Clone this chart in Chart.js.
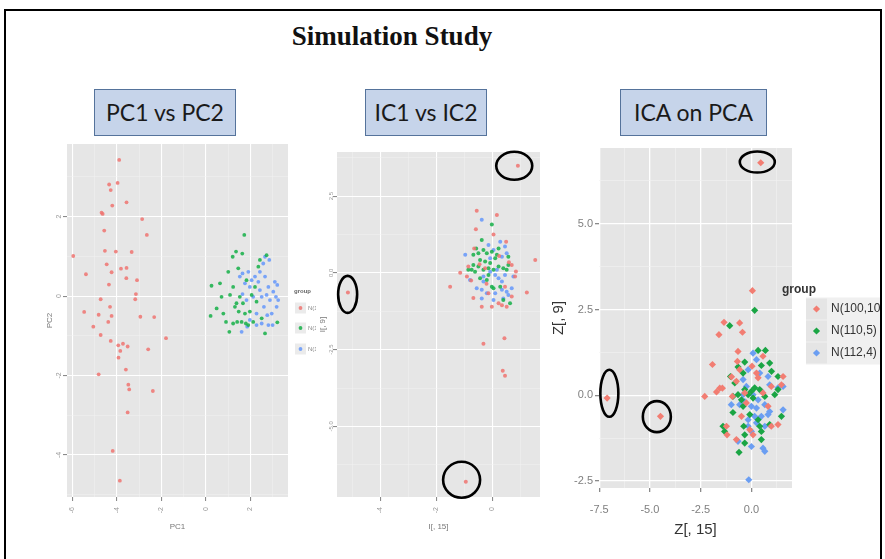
<!DOCTYPE html>
<html><head><meta charset="utf-8">
<script src="https://cdn.jsdelivr.net/npm/chart.js@4.4.1/dist/chart.umd.min.js"></script>
<style>
html,body{margin:0;padding:0;background:#fff;}
body{width:885px;height:559px;position:relative;overflow:hidden;}
canvas{position:absolute;}
.frame{position:absolute;left:4px;top:9px;width:874px;height:620px;border:2px solid #000;pointer-events:none;z-index:10;}
.title{position:absolute;left:242px;top:21px;width:300px;text-align:center;font:bold 27px "Liberation Serif","DejaVu Serif",serif;color:#111;z-index:6;}
.box{position:absolute;top:89px;height:47px;box-sizing:border-box;border:1.6px solid #55739b;background:#c6d4ea;color:#1a1a1a;font:23px Lato,"Open Sans",sans-serif;text-align:center;line-height:44px;z-index:6;}
</style></head>
<body>
<div class="frame"></div>
<div class="title">Simulation Study</div>
<div class="box" style="left:94px;width:142px;">PC1 vs PC2</div>
<div class="box" style="left:365px;width:122px;">IC1 vs IC2</div>
<div class="box" style="left:620px;width:147px;">ICA on PCA</div>
<canvas id="c1"></canvas>
<canvas id="c2"></canvas>
<canvas id="c3"></canvas>
<script>
// ---------- data ----------
const groupLabels = ['N(100,10)', 'N(110,5)', 'N(112,4)'];

// Panel 1: PC1 vs PC2
const pcXTicks = [-6, -4, -2, 0, 2];
const pcXLabels = ['-6', '-4', '-2', '0', '2'];
const pcXMinor = [-5, -3, -1, 1, 3];
const pcYTicks = [-4, -2, 0, 2];
const pcYLabels = ['-4', '-2', '0', '2'];
const pcYMinor = [-5, -3, -1, 1, 3];
const pcGroup1 = [[-3.89,3.43],[-4.34,2.81],[-3.96,2.85],[-4.27,2.67],[-3.56,2.36],[-4.20,2.28],[-4.68,2.10],[-4.63,2.07],[-2.86,1.94],[-4.56,1.65],[-2.65,1.54],[-5.95,1.01],[-4.53,1.14],[-4.04,1.12],[-3.33,1.11],[-4.45,0.80],[-3.81,0.69],[-3.56,0.71],[-4.23,0.60],[-5.38,0.55],[-3.57,0.45],[-3.09,0.40],[-4.35,0.29],[-3.14,0.05],[-3.17,-0.08],[-4.72,-0.08],[-4.30,-0.27],[-5.46,-0.40],[-4.81,-0.47],[-4.23,-0.50],[-2.94,-0.52],[-2.32,-0.53],[-4.38,-0.65],[-5.05,-0.77],[-4.72,-0.98],[-1.79,-1.06],[-4.27,-1.13],[-3.72,-1.20],[-3.51,-1.27],[-3.93,-1.24],[-2.59,-1.34],[-3.84,-1.38],[-3.92,-1.55],[-3.59,-1.85],[-4.81,-1.97],[-3.48,-2.23],[-3.44,-2.35],[-2.38,-2.39],[-3.51,-2.93],[-4.18,-3.90],[-3.86,-4.65]];
const pcGroup2 = [[0.25,0.26],[0.21,-0.50],[0.63,0.32],[0.70,-0.02],[0.78,-0.44],[1.00,0.61],[1.08,0.03],[1.20,0.99],[1.22,0.23],[1.30,-0.27],[1.35,1.12],[1.37,-0.18],[1.45,0.70],[1.47,-0.39],[1.52,-0.02],[1.63,1.07],[1.66,-0.18],[1.72,1.54],[1.75,-0.44],[1.79,-0.69],[1.82,0.40],[1.90,-0.73],[1.97,-0.39],[2.05,0.03],[2.12,-0.65],[2.20,0.23],[2.27,-0.14],[2.35,0.74],[2.42,0.91],[2.50,-0.56],[2.65,-0.94],[2.72,1.03],[3.20,-0.66],[1.22,-0.69],[1.40,-0.65],[0.90,-0.65],[1.60,-0.65],[1.05,-0.90],[0.48,-0.31]];
const pcGroup3 = [[1.52,0.49],[1.64,0.57],[1.75,0.32],[1.90,0.61],[1.97,0.23],[2.05,0.40],[2.12,-0.02],[2.20,0.49],[2.27,-0.44],[2.35,0.36],[2.42,0.15],[2.50,-0.02],[2.57,0.82],[2.60,-0.27],[2.65,0.49],[2.72,0.03],[2.75,-0.48],[2.80,0.23],[2.84,0.91],[2.87,-0.10],[2.95,-0.44],[3.02,0.11],[3.09,0.36],[3.14,-0.02],[3.17,-0.27],[3.20,0.28],[3.24,-0.10],[1.60,-0.90],[1.85,-0.77],[1.97,-0.60],[2.50,-0.69],[2.80,-0.73],[2.99,-0.73],[2.27,-0.73],[2.65,0.99],[2.42,0.61],[1.82,-0.10],[1.64,0.05]];

// Panel 2: IC1 vs IC2
const icXTicks = [-4, -2, 0];
const icXLabels = ['-4', '-2', '0'];
const icXMinor = [-5, -3, -1, 1];
const icYTicks = [-5, -2.5, 0, 2.5];
const icYLabels = ['-5.0', '-2.5', '0.0', '2.5'];
const icYMinor = [-6.25, -3.75, -1.25, 1.25, 3.75];
const icGroup1 = [[0.92,3.49],[-5.15,-0.64],[-0.94,-6.80],[1.54,0.42],[1.24,-0.64],[-1.50,-0.45],[-1.14,0.01],[-0.31,-2.31],[0.44,-2.13],[0.38,-3.19],[0.46,-3.35],[-0.55,2.03],[0.17,1.89],[-0.58,1.42],[-0.90,-0.12],[-0.67,-0.82],[-0.37,-1.10],[0.23,-0.99],[0.70,-0.77],[0.82,-0.12],[0.50,1.02],[0.70,0.26],[-0.13,-0.66],[-0.64,0.80],[0.46,-0.45],[-0.01,-1.10],[-0.85,0.21],[0.52,-1.10],[-0.25,0.15],[-0.45,0.28],[0.25,0.55],[-0.20,-0.35],[0.60,0.35],[0.05,1.25],[-0.75,-0.25],[0.35,-1.05],[0.85,0.05]];
const icGroup2 = [[-0.01,1.58],[-0.37,1.07],[-0.57,0.80],[-0.67,0.59],[-0.49,0.64],[-0.31,0.75],[-0.19,0.64],[-0.01,0.69],[0.17,0.59],[-0.43,0.42],[-0.25,0.37],[-0.07,0.32],[0.11,0.48],[0.23,0.21],[-0.73,0.10],[-0.61,0.04],[-0.49,0.21],[-0.31,0.10],[-0.13,0.15],[0.05,0.10],[0.40,0.15],[0.52,0.10],[0.58,0.53],[-0.43,-0.17],[-0.19,-0.23],[-0.01,-0.45],[0.29,-0.45],[0.05,-0.50],[0.64,-0.99],[0.40,-0.88],[-0.13,-0.07],[-0.67,0.26],[-0.85,0.10],[0.58,0.26],[0.23,0.80]];
const icGroup3 = [[-0.37,1.73],[-0.96,0.59],[0.29,1.02],[0.46,0.86],[-0.13,0.91],[0.05,0.75],[0.35,0.53],[0.52,0.64],[-0.07,0.04],[0.11,-0.07],[0.23,-0.17],[0.35,-0.28],[-0.31,-0.28],[-0.55,-0.50],[-0.37,-0.55],[-0.19,-0.66],[0.11,-0.66],[0.35,-0.55],[0.52,-0.61],[0.70,-0.50],[0.76,-0.12],[-0.37,-0.83],[0.05,-0.88],[0.40,-0.83],[0.58,-0.72],[-0.31,-0.12],[0.17,0.10],[0.46,-0.07],[-0.07,0.48],[-0.79,-0.23]];

// Panel 3: ICA on PCA
const icaXTicks = [-7.5, -5, -2.5, 0];
const icaXLabels = ['-7.5', '-5.0', '-2.5', '0.0'];
const icaXMinor = [-6.25, -3.75, -1.25, 1.25];
const icaYTicks = [-2.5, 0, 2.5, 5];
const icaYLabels = ['-2.5', '0.0', '2.5', '5.0'];
const icaYMinor = [-1.25, 1.25, 3.75, 6.25];
const icaGroup1 = [[0.46,6.78],[-7.11,-0.08],[-4.48,-0.61],[0.05,3.05],[-1.35,2.13],[-1.60,1.77],[-0.58,2.11],[-0.44,1.84],[-1.92,0.90],[-0.69,0.99],[-2.30,-0.03],[-1.72,0.10],[-1.56,0.21],[-1.43,0.21],[-0.98,0.54],[-0.94,-0.03],[-1.23,-0.90],[-1.20,-1.15],[-0.74,-1.29],[-0.49,-0.61],[-0.08,-1.00],[0.08,-1.15],[0.03,0.85],[0.25,0.65],[0.57,0.07],[0.98,-0.90],[1.31,-0.85],[1.56,0.55],[1.48,0.31],[0.82,-0.32],[-0.25,-0.22],[-0.74,0.41],[0.33,0.51],[0.98,0.26],[-0.33,0.07],[-0.58,0.75],[0.57,1.14],[-0.66,1.28]];
const icaGroup2 = [[0.16,2.48],[-1.07,2.03],[0.33,1.31],[0.69,1.31],[-0.33,0.97],[-0.66,0.83],[0.90,0.94],[0.49,0.87],[-1.03,0.55],[-0.41,0.65],[1.31,0.55],[0.99,0.70],[0.16,0.22],[0.41,0.17],[0.00,0.12],[-0.33,0.17],[-0.66,0.02],[-0.91,-0.03],[-0.49,-0.13],[-0.16,0.02],[0.66,-0.03],[1.15,0.02],[1.48,-0.61],[-0.91,-0.50],[-0.41,-0.32],[-0.08,-0.56],[0.33,-0.71],[-1.40,-0.90],[-1.32,-1.05],[-0.38,-0.90],[0.41,-0.90],[0.49,-1.05],[-0.33,-1.15],[0.49,-1.29],[-0.33,-1.39],[-0.61,-1.66],[0.08,-0.08],[0.90,-0.85],[1.31,0.17],[-0.82,0.36]];
const icaGroup3 = [[0.08,1.23],[0.25,1.04],[-0.16,0.75],[0.41,0.65],[0.82,0.55],[-0.41,0.46],[0.90,0.31],[1.56,0.26],[1.31,0.22],[-0.25,0.26],[0.08,0.02],[0.33,-0.13],[-0.33,-0.18],[-0.99,-0.27],[0.00,-0.32],[0.25,-0.37],[0.66,-0.27],[0.90,-0.47],[1.56,-0.42],[-0.58,-0.27],[-0.16,-0.71],[0.49,-0.61],[0.82,-0.56],[0.25,-0.80],[0.66,-0.90],[0.00,-1.05],[-0.66,-1.34],[0.00,-1.49],[0.57,-1.54],[0.66,-1.63],[-0.16,-0.90],[0.16,-0.61],[-0.41,0.02],[0.49,0.12],[-0.13,-2.46]];

// circled outliers (data-space centres, pixel radii)
const icCircles = [[0.79,3.49,18,14],[-5.16,-0.70,9.5,18.5],[-1.09,-6.74,18.5,18]];
const icaCircles = [[0.29,6.80,17.5,10.5],[-7.0,0.06,9,23.5],[-4.66,-0.62,14,15.5]];

// ---------- helpers ----------
const toPts = a => a.map(p => ({x: p[0], y: p[1]}));

function axis(min, max, majors, labels, minors, fit, tickOpts, title, majorW, minorW) {
  const isMaj = v => majors.indexOf(v) >= 0;
  return {
    type: 'linear', min: min, max: max,
    afterBuildTicks: s => { s.ticks = majors.concat(minors).sort((a, b) => a - b).map(v => ({value: v})); },
    afterFit: fit,
    border: {display: false},
    grid: {
      color: c => (c.tick && isMaj(c.tick.value)) ? '#ffffff' : '#f2f2f2',
      lineWidth: c => (c.tick && isMaj(c.tick.value)) ? majorW : minorW,
      tickColor: c => (c.tick && isMaj(c.tick.value)) ? '#8a8a8a' : 'rgba(0,0,0,0)',
      tickLength: 4, drawTicks: true
    },
    ticks: Object.assign({
      autoSkip: false,
      callback: v => { const i = majors.indexOf(v); return i >= 0 ? labels[i] : ''; }
    }, tickOpts),
    title: title
  };
}

const panelPlugin = {
  id: 'panel',
  beforeDraw(chart, args, o) {
    const ctx = chart.ctx, a = chart.chartArea;
    ctx.save();
    if (o.white) { ctx.fillStyle = '#ffffff'; ctx.fillRect(0, 0, chart.width, chart.height); }
    ctx.fillStyle = o.bg || '#e5e5e5';
    ctx.fillRect(a.left, a.top, a.right - a.left, a.bottom - a.top);
    ctx.restore();
  },
  afterDraw(chart, args, o) {
    const ctx = chart.ctx, xs = chart.scales.x, ys = chart.scales.y;
    ctx.save();
    if (o.rotY) {
      ctx.fillStyle = o.rotY.color; ctx.font = o.rotY.font;
      ctx.textAlign = 'center'; ctx.textBaseline = 'middle';
      o.rotY.values.forEach((v, i) => {
        const py = ys.getPixelForValue(v);
        ctx.save(); ctx.translate(chart.chartArea.left - o.rotY.off, py); ctx.rotate(-Math.PI / 2);
        ctx.fillText(o.rotY.labels[i], 0, 0); ctx.restore();
      });
    }
    if (o.circles) {
      ctx.strokeStyle = '#000'; ctx.lineWidth = 2.6;
      o.circles.forEach(c => {
        ctx.beginPath();
        ctx.ellipse(xs.getPixelForValue(c[0]), ys.getPixelForValue(c[1]), c[2], c[3], 0, 0, Math.PI * 2);
        ctx.stroke();
      });
    }
    if (o.legend) {
      const L = o.legend;
      ctx.translate(-o.ox, -o.oy);   // legend given in page coordinates
      ctx.fillStyle = L.titleColor; ctx.font = L.titleFont;
      ctx.textAlign = 'left'; ctx.textBaseline = 'middle';
      ctx.fillText('group', L.x, L.y);
      if (L.boxBg) { ctx.fillStyle = L.boxBg; ctx.fillRect(L.keyX, L.rows[0] - L.key / 2 - 1, L.boxW, L.rows[L.rows.length - 1] - L.rows[0] + L.key + 2); }
      chart.data.datasets.forEach((d, i) => {
        const y = L.rows[i];
        ctx.fillStyle = L.keyBg; ctx.fillRect(L.keyX, y - L.key / 2, L.key, L.key);
        ctx.fillStyle = d.backgroundColor;
        const cx = L.keyX + L.key / 2;
        ctx.beginPath();
        if (L.diamond) { ctx.moveTo(cx, y - L.r); ctx.lineTo(cx + L.r, y); ctx.lineTo(cx, y + L.r); ctx.lineTo(cx - L.r, y); ctx.closePath(); }
        else ctx.arc(cx, y, L.r, 0, Math.PI * 2);
        ctx.fill();
        ctx.fillStyle = L.textColor; ctx.font = L.textFont;
        ctx.fillText(d.label, L.keyX + L.key + L.gap, y);
      });
    }
    ctx.restore();
  }
};

function makeChart(id, box, plot, datasets, scales, pluginOpts) {
  const cv = document.getElementById(id);
  cv.width = box.w; cv.height = box.h;
  cv.style.left = box.l + 'px'; cv.style.top = box.t + 'px';
  cv.style.width = box.w + 'px'; cv.style.height = box.h + 'px';
  pluginOpts.ox = box.l; pluginOpts.oy = box.t;
  return new Chart(cv, {
    type: 'scatter',
    data: {datasets: datasets},
    options: {
      responsive: false, animation: false, devicePixelRatio: 1,
      layout: {padding: {top: plot.t - box.t, right: box.l + box.w - plot.r, left: 0, bottom: 0}},
      plugins: {legend: {display: false}, tooltip: {enabled: false}, panel: pluginOpts},
      scales: scales
    },
    plugins: [panelPlugin]
  });
}

const smallFont = {family: 'Liberation Sans, Arial, sans-serif', size: 7};
const RED1 = 'rgba(238,115,112,0.85)', GRN1 = 'rgba(20,175,70,0.85)', BLU1 = 'rgba(100,150,250,0.85)';
const RED3 = '#F27D72', GRN3 = '#1AA544', BLU3 = '#6B9EF2';

function ds(label, pts, color, r, style) {
  return {label: label, data: toPts(pts), backgroundColor: color, borderWidth: 0, pointRadius: r, pointStyle: style || 'circle'};
}

// ---------- Panel 1 ----------
(function () {
  const box = {l: 41, t: 135, w: 275, h: 401};
  const plot = {l: 67, t: 144, r: 288, b: 497};
  makeChart('c1', box, plot,
    [ds(groupLabels[0], pcGroup1, RED1, 1.9), ds(groupLabels[1], pcGroup2, GRN1, 1.9), ds(groupLabels[2], pcGroup3, BLU1, 1.9)],
    {
      x: axis(-6.23, 3.68, pcXTicks, pcXLabels, pcXMinor, s => { s.height = box.t + box.h - plot.b; },
        {minRotation: 90, maxRotation: 90, padding: 6, color: '#999', font: smallFont},
        {display: true, text: 'PC1', color: '#777', font: {family: 'Liberation Sans, Arial', size: 8}, padding: {top: 4, bottom: 4}}, 1.1, 0.5),
      y: axis(-5.06, 3.83, pcYTicks, pcYLabels, pcYMinor, s => { s.width = plot.l - box.l; },
        {display: false},
        {display: true, text: 'PC2', color: '#777', font: {family: 'Liberation Sans, Arial', size: 8}, padding: {top: 4, bottom: 4}}, 1.1, 0.5)
    },
    {bg: '#e6e6e6',
     rotY: {values: pcYTicks, labels: pcYLabels, off: 8, color: '#999', font: '7px "Liberation Sans", Arial'},
     legend: {x: 294, y: 291, titleFont: 'bold 6px "Liberation Sans", Arial', titleColor: '#666',
              rows: [308, 328, 349], keyX: 295, key: 11, r: 1.9, gap: 2, keyBg: '#ebebeb',
              textColor: '#888', textFont: '6px "Liberation Sans", Arial'}}
  );
})();

// ---------- Panel 2 ----------
(function () {
  const box = {l: 316, t: 140, w: 232, h: 396};
  const plot = {l: 337, t: 152, r: 540, b: 497};
  makeChart('c2', box, plot,
    [ds(groupLabels[0], icGroup1, RED1, 2.0), ds(groupLabels[1], icGroup2, GRN1, 2.0), ds(groupLabels[2], icGroup3, BLU1, 2.0)],
    {
      x: axis(-5.54, 1.71, icXTicks, icXLabels, icXMinor, s => { s.height = box.t + box.h - plot.b; },
        {minRotation: 90, maxRotation: 90, padding: 6, color: '#999', font: smallFont},
        {display: true, text: 'I[, 15]', color: '#777', font: {family: 'Liberation Sans, Arial', size: 8}, padding: {top: 4, bottom: 4}}, 1.1, 0.5),
      y: axis(-7.30, 3.94, icYTicks, icYLabels, icYMinor, s => { s.width = plot.l - box.l; },
        {display: false},
        {display: true, text: 'I[, 9]', color: '#777', font: {family: 'Liberation Sans, Arial', size: 8}, padding: {top: 2, bottom: 2}}, 1.1, 0.5)
    },
    {bg: '#e6e6e6', white: true, circles: icCircles,
     rotY: {values: icYTicks, labels: icYLabels, off: 6, color: '#999', font: '6px "Liberation Sans", Arial'}}
  );
})();

// ---------- Panel 3 ----------
(function () {
  const box = {l: 547, t: 135, w: 334, h: 406};
  const plot = {l: 599, t: 148, r: 792, b: 488};
  const tf = {family: 'Liberation Sans, Arial, sans-serif', size: 11};
  const af = {family: 'Liberation Sans, Arial, sans-serif', size: 15};
  makeChart('c3', box, plot,
    [ds(groupLabels[0], icaGroup1, RED3, 3.6, 'rectRot'), ds(groupLabels[1], icaGroup2, GRN3, 3.6, 'rectRot'), ds(groupLabels[2], icaGroup3, BLU3, 3.6, 'rectRot')],
    {
      x: axis(-7.51, 2.0, icaXTicks, icaXLabels, icaXMinor, s => { s.height = box.t + box.h - plot.b; },
        {padding: 11, color: '#7f7f7f', font: tf, maxRotation: 0},
        {display: true, text: 'Z[, 15]', color: '#333', font: af, padding: {top: 2, bottom: 2}}, 1.3, 0.6),
      y: axis(-2.70, 7.21, icaYTicks, icaYLabels, icaYMinor, s => { s.width = plot.l - box.l; },
        {padding: 2, color: '#7f7f7f', font: tf},
        {display: true, text: 'Z[, 9]', color: '#333', font: af, padding: {top: 3, bottom: 3}}, 1.3, 0.6)
    },
    {bg: '#e5e5e5', circles: icaCircles,
     legend: {x: 782, y: 290, titleFont: 'bold 12px "Liberation Sans", Arial', titleColor: '#333',
              rows: [309, 331, 353], keyX: 806, key: 21, r: 3.6, gap: 4, keyBg: '#e5e5e5', diamond: true,
              boxBg: '#f0f0f0', boxW: 80,
              textColor: '#333', textFont: '12px "Liberation Sans", Arial'}}
  );
})();
</script>
</body></html>
